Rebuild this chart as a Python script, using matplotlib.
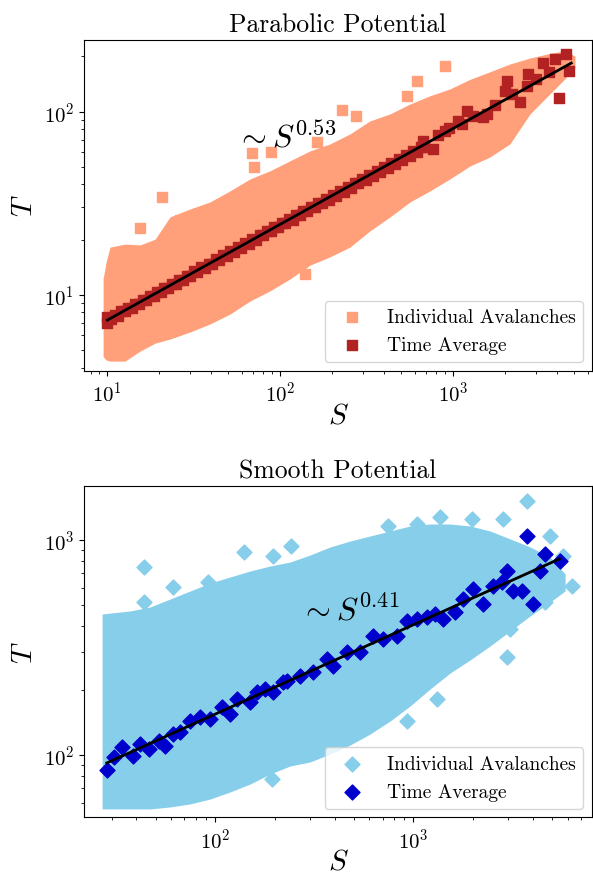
import matplotlib
matplotlib.use("Agg")
import matplotlib.pyplot as plt

plt.rcParams['font.family'] = 'serif'
plt.rcParams['font.serif'] = ['cmr10']
plt.rcParams['mathtext.fontset'] = 'cm'
plt.rcParams['axes.unicode_minus'] = False
plt.rcParams['axes.formatter.use_mathtext'] = True

# ---- Parabolic potential ----
# envelope of the individual avalanche cloud
S1_env = [9.45, 9.84, 10.36, 12.66, 15.45, 18.88, 23.05, 30.1, 39.2, 51.2, 66.9, 87.3, 114, 148.7,
          194, 253, 330, 431.5, 563, 735, 959, 1253, 1634, 2133, 2784, 3632, 4434, 5066]
T1_hi = [12.2, 15.1, 18.2, 18.9, 18.7, 20.1, 26.6, 29.4, 32.1, 36.9, 42.9, 47.5, 53.9, 61.0,
         66.6, 75.5, 88.9, 97.1, 110, 122, 133, 150, 165, 182, 196, 208, 215, 201]
T1_lo = [4.6, 4.4, 4.34, 4.34, 4.92, 5.44, 5.73, 6.26, 6.92, 7.84, 9.24, 10.5, 12.2, 14.5,
         16.1, 18.2, 22.3, 26.6, 32.1, 36.9, 42.9, 50.5, 56.5, 66.7, 97.1, 125, 151, 175]
# isolated avalanches outside the dense cloud
S1_out = [20.8, 15.5, 26.3, 68.4, 88.5, 70.5, 164, 139, 898, 616, 539, 227, 274]
T1_out = [34.3, 23.1, 25.7, 59.4, 60.4, 50.1, 68.5, 12.96, 178, 146, 122, 102, 94.4]
# time averages
S1_avg = [10, 10, 10.5, 11, 11.5, 12, 12.6, 13.2, 13.8, 14.5, 15.2, 16, 16.8, 17.6, 18.5, 19.4,
          20.4, 21.4, 22.5, 23.6, 24.8, 26, 27.3, 28.7, 30.1, 31.6, 33.2, 34.9, 36.6, 38.5, 40.4,
          42.4, 44.5, 46.7, 49, 51.5, 54, 56.7, 59.6, 62.6, 65.7, 69, 72.4, 76, 79.8, 83.8, 88,
          92.4, 97, 102, 107, 112, 118, 124, 130, 136, 143, 150, 158, 166, 174, 183, 192, 201,
          211, 222, 233, 245, 257, 270, 283, 297, 312, 328, 344, 361, 379, 398, 418, 439, 461,
          484, 508, 534, 560, 588, 618, 649, 672, 681, 768, 820, 898, 950, 1072, 1120, 1199,
          1300, 1495, 1564, 1750, 1996, 2058, 2200, 2438, 2666, 2722, 3000, 3324, 3600, 3886,
          4115, 4480, 4680]
T1_avg = [7.0, 7.6, 7.35, 7.75, 7.7, 8.15, 8.1, 8.45, 8.5, 8.95, 8.9, 9.4, 9.35, 9.9, 9.85, 10.4,
          10.35, 10.95, 10.9, 11.5, 11.45, 12.1, 12.0, 12.7, 12.6, 13.4, 13.3, 14.1, 14.0, 14.8,
          14.8, 15.6, 15.5, 16.4, 16.3, 17.3, 17.2, 18.2, 18.0, 19.1, 19.0, 20.1, 20.0, 21.2,
          21.1, 22.3, 22.2, 23.4, 23.3, 24.7, 24.5, 25.9, 25.7, 27.3, 27.1, 28.6, 28.5, 30.1,
          30.0, 31.7, 31.5, 33.3, 33.1, 35.0, 34.8, 36.8, 36.6, 38.7, 38.5, 40.7, 40.5, 42.8,
          42.5, 45.0, 44.7, 47.3, 47.0, 49.7, 49.4, 52.2, 51.8, 54.8, 54.5, 57.6, 57.3, 60.6,
          60.2, 63.7, 69.4, 64.0, 62.6, 74.5, 78.7, 81.0, 89.3, 86.0, 101.3, 94.0, 93.2, 97.1,
          108, 130.3, 147.7, 125, 112.6, 138.7, 160.7, 150, 184.5, 165, 194.1, 118.4, 206.7, 167.5]
S1_fit = [10, 4820]
T1_fit = [7.27, 184]

# ---- Smooth potential ----
S2_env = [26.9, 37.3, 47.0, 59.3, 74.8, 94.4, 119, 150.2, 189.4, 238.9, 301.3, 380.1, 479.6,
          604.7, 762.9, 962.5, 1214, 1531, 1931, 2437, 3073, 3877, 4891, 5821]
T2_hi = [452.7, 467.6, 488.0, 531.6, 579.2, 631, 672.9, 717.6, 756.9, 790, 851.5, 927.7, 989.3,
         1044, 1101, 1162, 1187, 1187, 1162, 1101, 1011, 927.7, 833.5, 695]
T2_lo = [56.1, 56.1, 56.1, 57.3, 59.2, 62.4, 67.3, 73.3, 81.6, 88.9, 92.8, 101.1, 111.3, 125.2,
         143.9, 169.0, 202.8, 240.6, 276.6, 321.4, 377.4, 443.1, 514.6, 579.2]
S2_out = [43.9, 61.2, 140, 195.4, 241.7, 91.7, 43.5, 747.9, 1040, 1363, 1970, 2844, 3731, 1591,
          6292, 2958, 1312, 926, 4891, 5706, 4615, 3073, 193.1]
T2_out = [746, 602.6, 882, 845, 932.8, 635.7, 513.2, 1166, 1187, 1275, 1256, 1252, 1523, 1066,
          612.9, 284.7, 182.2, 144.4, 1047, 845, 513.2, 385.5, 77.3]
S2_avg = [28.6, 30.7, 33.8, 38.7, 41.9, 46.1, 51.8, 56.0, 61.6, 66.6, 74.8, 84.0, 94.4, 108.1,
          119.0, 128.7, 150.2, 162.3, 178.7, 196.8, 221.0, 229.9, 268.3, 313.1, 365.8, 395.1,
          461.5, 538.5, 628.4, 706.2, 824.8, 926.3, 1040, 1168, 1287, 1417, 1623, 1787, 2007,
          2254, 2532, 2792, 2958, 3194, 3520, 3731, 4029, 4355, 4615, 5494]
T2_avg = [85.4, 97.6, 108.6, 98.6, 112.5, 106.7, 116.5, 110.5, 125.2, 127.5, 144.4, 149.7,
          147.1, 166.7, 155.1, 182.2, 175.9, 195.7, 202.8, 195.7, 217.8, 221.6, 233.8, 242.5,
          279.6, 260.2, 300.4, 300.4, 358.8, 346.3, 358.8, 421.4, 429.1, 437.0, 452.7, 429.1,
          461.0, 531.6, 591.6, 504.0, 612.9, 635.7, 719.8, 580.9, 580.9, 1047, 504.0, 719.8,
          860.9, 801.3]
S2_fit = [28.4, 5445]
T2_fit = [91.8, 816]

fig = plt.figure(figsize=(5.93, 8.78), dpi=100)
ax1 = fig.add_axes([0.1417, 0.5767, 0.8567, 0.377])
ax2 = fig.add_axes([0.1417, 0.068, 0.8567, 0.3777])

panels = [
    (ax1, S1_env, T1_lo, T1_hi, S1_out, T1_out, S1_avg, T1_avg, S1_fit, T1_fit,
     'lightsalmon', 'firebrick', 's', 'Parabolic Potential', r'$\sim S^{0.53}$', (55.5, 63.9),
     (7.33, 6360), (3.85, 247)),
    (ax2, S2_env, T2_lo, T2_hi, S2_out, T2_out, S2_avg, T2_avg, S2_fit, T2_fit,
     'skyblue', 'mediumblue', 'D', 'Smooth Potential', r'$\sim S^{0.41}$', (268, 429),
     (21.8, 7960), (51.3, 1789)),
]

for (ax, s_env, t_lo, t_hi, s_out, t_out, s_avg, t_avg, s_fit, t_fit,
     c_light, c_dark, mk, title, ann, ann_xy, xlim, ylim) in panels:
    ax.fill_between(s_env, t_lo, t_hi, color=c_light, lw=0)
    ax.scatter(s_out, t_out, s=58, marker=mk, color=c_light, label='Individual Avalanches')
    ax.scatter(s_avg, t_avg, s=58, marker=mk, color=c_dark, label='Time Average')
    ax.plot(s_fit, t_fit, color='black', lw=2)
    ax.set_xscale('log')
    ax.set_yscale('log')
    ax.set_xlim(*xlim)
    ax.set_ylim(*ylim)
    ax.text(ann_xy[0], ann_xy[1], ann, fontsize=23, ha='left', va='baseline')
    ax.set_title(title, fontsize=18.5)
    ax.set_xlabel('$S$', fontsize=21, labelpad=-2)
    ax.set_ylabel('$T$', fontsize=21)
    ax.tick_params(labelsize=15)
    ax.legend(loc='lower right', fontsize=14, borderaxespad=0.45)

fig.savefig('out.png', dpi=100)
